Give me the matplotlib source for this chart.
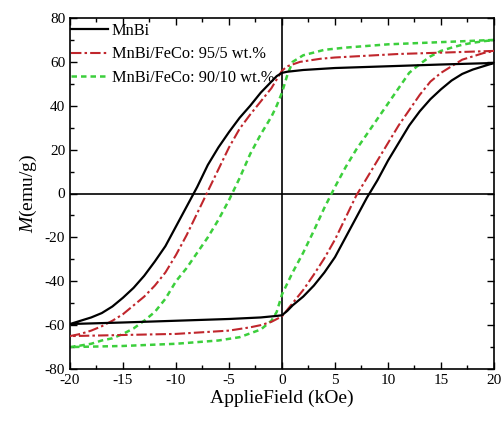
import numpy as np
import matplotlib
matplotlib.use("Agg")
import matplotlib.pyplot as plt
from matplotlib.ticker import MultipleLocator

plt.rcParams['font.family'] = ['Liberation Serif', 'DejaVu Serif']
plt.rcParams['mathtext.fontset'] = 'custom'
plt.rcParams['mathtext.it'] = 'Liberation Serif:italic'
plt.rcParams['mathtext.rm'] = 'Liberation Serif'
plt.rcParams['axes.unicode_minus'] = False

# ---- data (kOe, emu/g) ----
# descending branch (from +20 down to -20)
mnbi_down_H = [20, 15, 10, 5, 2, 0.5, 0, -0.5, -1, -2, -3, -4, -5, -6, -7, -8, -9, -10, -11, -12,
               -13, -14, -15, -16, -17, -18, -19, -20]
mnbi_down_M = [59.5, 58.8, 58.0, 57.2, 56.3, 55.5, 55.0, 53.5, 51, 46, 40, 34.5, 28, 21, 13, 3, -6,
               -15, -24, -31, -37.5, -43, -47.5, -51.5, -54.5, -56.5, -58, -59.5]
# ascending branch (from -20 up to +20)
mnbi_up_H = [-20, -15, -10, -5, -2, -0.5, 0, 0.5, 1, 2, 3, 4, 5, 6, 7, 8, 9, 10, 11, 12, 13, 14,
             15, 16, 17, 18, 19, 20]
mnbi_up_M = [-59.5, -58.8, -58.0, -57.2, -56.5, -55.8, -55.5, -53.5, -51, -47, -42, -36, -29, -20,
             -11, -2, 6, 15, 23, 31, 37.5, 43, 47.5, 51.5, 54.5, 56.5, 58, 59.5]

fc5_down_H = [20, 15, 11, 5, 3.6, 1.7, 0.5, 0, -0.5, -1, -2, -3, -4, -5, -6, -7, -8, -9, -10, -11,
              -12, -13, -14, -15, -16, -17, -18, -19, -20]
fc5_down_M = [65, 64.2, 63.6, 62, 61.4, 60, 58, 56, 52, 48, 42, 36, 29.5, 21, 11, 1, -9, -19, -28,
              -36, -42, -47, -51, -55, -58, -60.5, -62.5, -64, -65]
fc5_up_H = [-20, -15, -10, -5, -3, -2, -1, 0, 1, 2, 3, 4, 5, 6, 7, 8, 9, 10, 11, 12, 13, 14, 15,
            16, 17, 18, 19, 20]
fc5_up_M = [-65, -64.5, -64, -62.5, -61, -60, -58.5, -56, -50, -44, -37, -29.5, -21, -11, -1, 7,
            15, 23, 31, 38, 45, 51, 55, 58, 61, 62.5, 64, 65]

fc10_down_H = [20, 15, 10, 6, 4, 2, 1, 0.5, 0, -0.5, -1, -2, -3, -4, -5, -6, -7, -8, -9, -10, -11,
               -12, -13, -14, -15, -16, -17, -18, -19, -20]
fc10_down_M = [70, 69, 68, 66.5, 65.5, 63, 60, 54, 46, 40, 35, 27, 18, 7, -3, -12, -20, -27, -34,
               -40, -48, -54, -58, -61.5, -64, -66, -67, -68.5, -69.3, -70]
fc10_up_H = [-20, -15, -10, -6, -4, -2, -1, -0.5, 0, 0.5, 1, 2, 3, 4, 5, 6, 7, 8, 9, 10, 11, 12,
             13, 14, 15, 16, 17, 18, 19, 20]
fc10_up_M = [-70, -69.5, -68.5, -67, -65.5, -62, -58, -54, -46, -41, -36, -27, -17, -6.5, 3, 12,
             20, 27, 34, 41, 48, 55, 59, 62.5, 65, 66.5, 67.8, 68.7, 69.4, 70]

labels = ['MnBi', 'MnBi/FeCo: 95/5 wt.%', 'MnBi/FeCo: 90/10 wt.%']
xticks = [-20, -15, -10, -5, 0, 5, 10, 15, 20]
yticks = [-80, -60, -40, -20, 0, 20, 40, 60, 80]

fig = plt.figure(figsize=(5.02, 4.21), dpi=100)
ax = fig.add_axes([70/502, 1-369/421, 424/502, 351/421])

ax.axhline(0, color='black', lw=1.2, zorder=1)
ax.axvline(0, color='black', lw=1.2, zorder=1)

def loop(dH, dM, uH, uM):
    return np.concatenate([dH, uH]), np.concatenate([dM, uM])

H, M = loop(mnbi_down_H, mnbi_down_M, mnbi_up_H, mnbi_up_M)
ax.plot(H, M, color='black', lw=1.6, label=labels[0], zorder=4)
H, M = loop(fc5_down_H, fc5_down_M, fc5_up_H, fc5_up_M)
ax.plot(H, M, color='#c0262c', lw=1.5, dashes=(5, 1.5, 1.2, 1.5), label=labels[1], zorder=3)
H, M = loop(fc10_down_H, fc10_down_M, fc10_up_H, fc10_up_M)
ax.plot(H, M, color='#3ccf3c', lw=1.8, dashes=(2.2, 1.6), label=labels[2], zorder=2)

ax.set_xlim(-20, 20)
ax.set_ylim(-80, 80)
ax.set_xticks(xticks)
ax.set_yticks(yticks)
ax.xaxis.set_minor_locator(MultipleLocator(2.5))
ax.yaxis.set_minor_locator(MultipleLocator(10))
ax.tick_params(which='both', direction='in', top=True, right=True, labelsize=11)
ax.tick_params(which='major', length=5, width=1)
ax.tick_params(which='minor', length=3, width=1)
for s in ax.spines.values():
    s.set_linewidth(1.2)

ax.set_xlabel('ApplieField (kOe)', fontsize=14, labelpad=2)
ax.set_ylabel(r'$M$(emu/g)', fontsize=14, labelpad=4)

ax.legend(loc='upper left', frameon=False, fontsize=11.8, handlelength=2.3,
          handletextpad=0.2, labelspacing=0.45, borderaxespad=0.0, borderpad=0.3,
          bbox_to_anchor=(-0.01, 1.0))

fig.savefig('out.png', dpi=100)
